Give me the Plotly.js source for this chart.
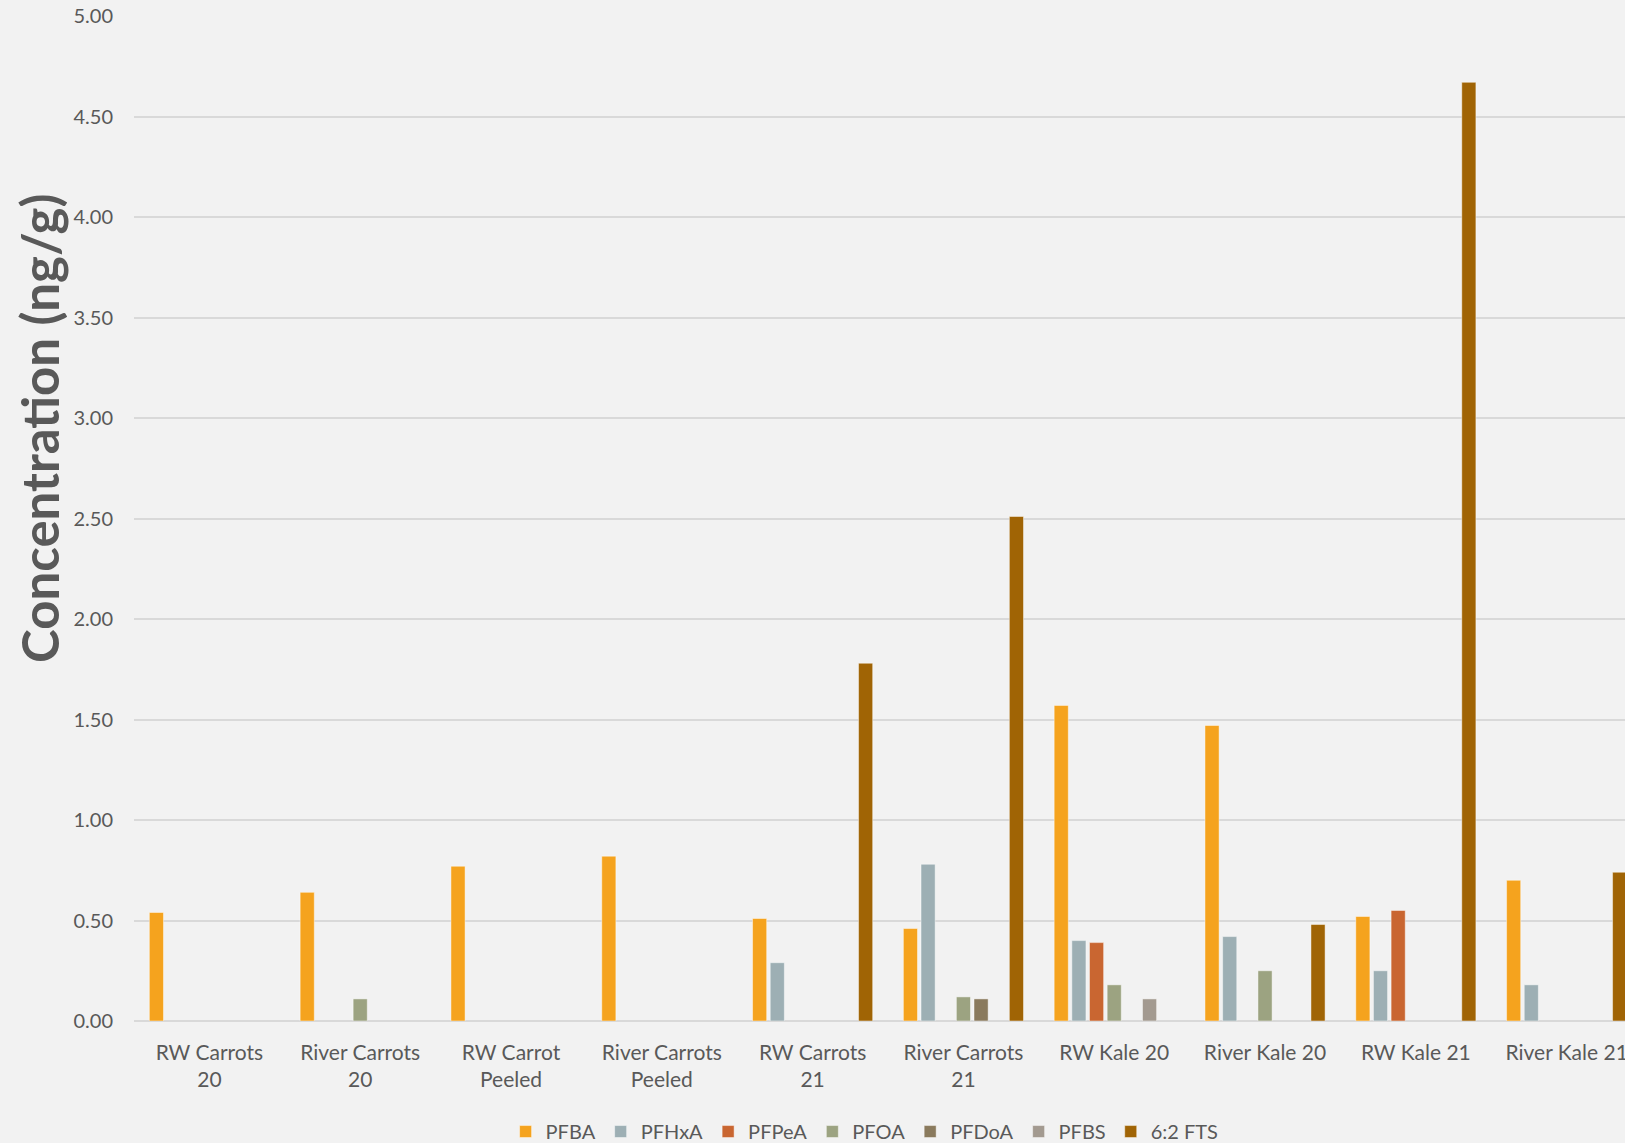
<!DOCTYPE html>
<html>
<head>
<meta charset="utf-8">
<script src="https://cdn.plot.ly/plotly-3.0.1.min.js"></script>
<style>
html,body{margin:0;padding:0;background:#F2F2F2;overflow:hidden;}
#chart{width:1625px;height:1143px;}
</style>
</head>
<body>
<div id="chart"></div>
<script>
const categories = ["RW Carrots<br>20","River Carrots<br>20","RW Carrot<br>Peeled","River Carrots<br>Peeled","RW Carrots<br>21","River Carrots<br>21","RW Kale 20","River Kale 20","RW Kale 21","River Kale 21"];
const seriesNames = ["PFBA","PFHxA","PFPeA","PFOA","PFDoA","PFBS","6:2 FTS"];
const PFBA   = [0.54, 0.64, 0.77, 0.82, 0.51, 0.46, 1.57, 1.47, 0.52, 0.70];
const PFHxA  = [null, null, null, null, 0.29, 0.78, 0.40, 0.42, 0.25, 0.18];
const PFPeA  = [null, null, null, null, null, null, 0.39, null, 0.55, null];
const PFOA   = [null, 0.11, null, null, null, 0.12, 0.18, 0.25, null, null];
const PFDoA  = [null, null, null, null, null, 0.11, null, null, null, null];
const PFBS   = [null, null, null, null, null, null, 0.11, null, null, null];
const FTS62  = [null, null, null, null, 1.78, 2.51, null, 0.48, 4.67, 0.74];
const yTicks = [0,0.5,1,1.5,2,2.5,3,3.5,4,4.5,5];

const colors = ["#F5A31E","#9DAFB4","#C96631","#9CA381","#8A7A5D","#A39A90","#A06405"];
const values = [PFBA, PFHxA, PFPeA, PFOA, PFDoA, PFBS, FTS62];

const traces = values.map((v,i)=>({
  type:'bar', name: seriesNames[i], x: categories, y: v,
  marker:{color: colors[i], line:{color:'rgba(255,255,255,0.45)', width:1}},
  hoverinfo:'x+y+name'
}));

const font = "Lato, 'Open Sans', sans-serif";
const layout = {
  width:1625, height:1143,
  paper_bgcolor:'#F2F2F2', plot_bgcolor:'#F2F2F2',
  margin:{l:134, r:0, t:16, b:122, autoexpand:false},
  barmode:'group', bargap:0.18, bargroupgap:0.2,
  font:{family:font, color:'#595959', size:20},
  showlegend:true,
  legend:{orientation:'h', x:0.49, xanchor:'center', y:-0.11, yanchor:'middle',
          font:{family:font, size:20, color:'#595959'}, traceorder:'normal', bgcolor:'rgba(0,0,0,0)'},
  xaxis:{type:'category', range:[-0.5, 9.387], showgrid:false, zeroline:false, showline:false,
         ticks:'', tickfont:{family:font, size:21, color:'#595959'}, ticklabelstandoff:17, automargin:false},
  yaxis:{range:[0,5], tickvals:yTicks, tickformat:'.2f', showgrid:true, gridcolor:'#D9D9D9', gridwidth:2,
         zeroline:true, zerolinecolor:'#D9D9D9', zerolinewidth:2, showline:false, ticks:'',
         tickfont:{family:font, size:20, color:'#595959'}, ticklabelstandoff:20, automargin:false},
  annotations:[{
    text:'Concentration (ng/g)', textangle:-90, xref:'paper', yref:'paper',
    x:(40-134)/1491, y:(1021-429)/1005, xanchor:'center', yanchor:'middle', showarrow:false,
    font:{family:font, size:51, color:'#595959', weight:'bold'}
  }]
};

Plotly.newPlot('chart', traces, layout, {staticPlot:true, displayModeBar:false});
</script>
</body>
</html>
